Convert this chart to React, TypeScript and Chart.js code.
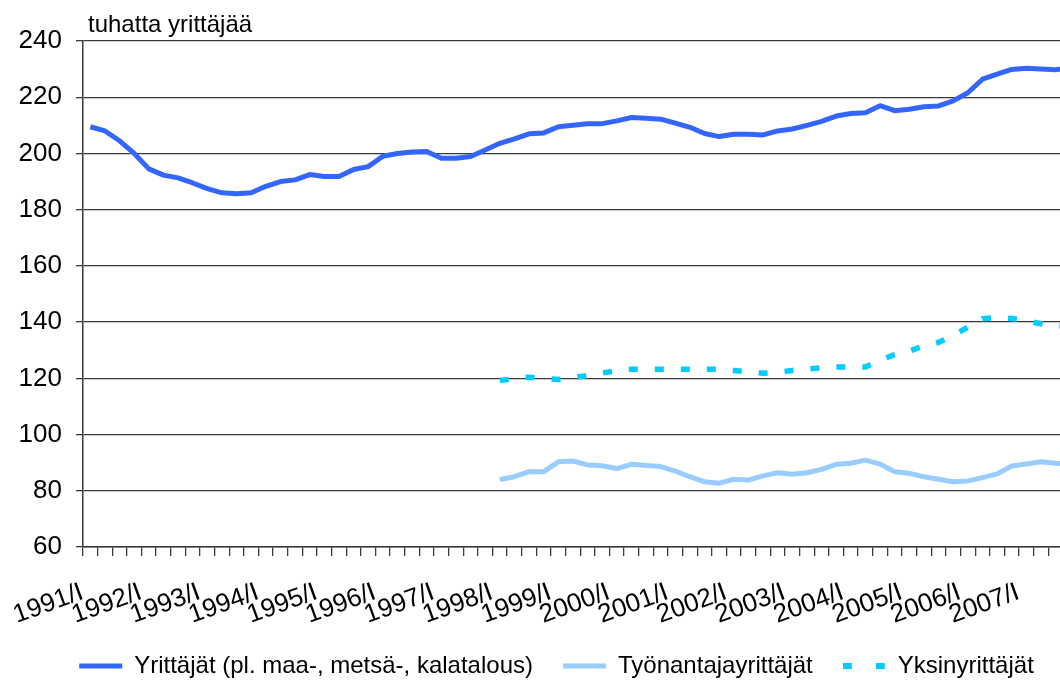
import React, { useEffect, useRef } from 'react';
import { Chart, registerables } from 'chart.js';

Chart.register(...registerables);

const years = [1991, 1992, 1993, 1994, 1995, 1996, 1997, 1998, 1999, 2000, 2001, 2002, 2003, 2004, 2005, 2006, 2007];
const quarterNames = ['I', 'II', 'III', 'IV'];
const categories = years.flatMap((y) => quarterNames.map((q) => `${y}/${q}`));

const axisTitle = 'tuhatta yrittäjää';
const seriesNames = ['Yrittäjät (pl. maa-, metsä-, kalatalous)', 'Työnantajayrittäjät', 'Yksinyrittäjät'];

const yrittajat = [
  209.5, 208, 204.5, 200, 194.5, 192.3, 191.3, 189.5,
  187.5, 186, 185.7, 186, 188.3, 190, 190.6, 192.5,
  191.8, 191.8, 194.3, 195.3, 199, 200, 200.5, 200.7,
  198.3, 198.3, 198.9, 201.2, 203.6, 205.2, 207, 207.3,
  209.5, 210, 210.6, 210.6, 211.6, 212.8, 212.5, 212.2,
  210.8, 209.3, 207.1, 206, 206.8, 206.8, 206.6, 208,
  208.7, 210, 211.4, 213.3, 214.2, 214.5, 217, 215.2,
  215.7, 216.6, 216.9, 218.7, 221.6, 226.4, 228.2, 229.9,
  230.3, 230, 229.8, 230.5,
];

const tyonantajat = [
  null, null, null, null, null, null, null, null,
  null, null, null, null, null, null, null, null,
  null, null, null, null, null, null, null, null,
  null, null, null, null, 84, 85, 86.8, 86.8,
  90.3, 90.6, 89.2, 88.9, 87.9, 89.4, 89, 88.6,
  87, 85, 83.2, 82.7, 84.1, 83.8, 85.3, 86.4,
  85.9, 86.4, 87.6, 89.4, 89.8, 90.9, 89.5, 86.8,
  86.2, 85, 84.1, 83.2, 83.5, 84.7, 86, 88.8,
  89.5, 90.3, 89.8, 89.5,
];

const yksinyrittajat = [
  null, null, null, null, null, null, null, null,
  null, null, null, null, null, null, null, null,
  null, null, null, null, null, null, null, null,
  null, null, null, null, 119.2, 119.9, 120.4, 120.0,
  119.6, 120.2, 121.0, 121.9, 122.7, 123.2, 123.2, 123.2,
  123.2, 123.2, 123.2, 123.2, 122.8, 122.3, 121.8, 122.2,
  122.8, 123.3, 123.7, 124.0, 124.1, 124.0, 126.5, 128.4,
  129.7, 131.5, 132.8, 135.2, 138.2, 141.2, 141.7, 141.3,
  140.5, 139.4, 138.8, 138.5,
];

const FONT = '"Liberation Sans", Arial, Helvetica, sans-serif';
const GRID = '#3a3a3a';
const COLORS = ['#3366ff', '#99ccff', '#00ccff'];

const axisTitlePlugin = {
  id: 'axisTitleTop',
  afterLayout(chart: any) {
    // nudge the centred legend to the right, like the original layout
    if (chart.legend) {
      chart.legend.left += 26;
    }
  },
  afterDraw(chart: any) {
    const ctx = chart.ctx;
    ctx.save();
    ctx.font = `24px ${FONT}`;
    ctx.fillStyle = '#000';
    ctx.textBaseline = 'alphabetic';
    ctx.textAlign = 'left';
    ctx.fillText(axisTitle, chart.chartArea.left + 5, 32);
    ctx.restore();
  },
};

export default function App() {
  const ref = useRef<HTMLCanvasElement | null>(null);

  useEffect(() => {
    if (!ref.current) return;

    // legend marker for the dashed series (two dashes)
    const dashSample = document.createElement('canvas');
    dashSample.width = 43;
    dashSample.height = 6;
    const dctx = dashSample.getContext('2d');
    if (dctx) {
      dctx.fillStyle = COLORS[2];
      dctx.fillRect(0, 0, 9, 6);
      dctx.fillRect(33, 0, 9, 6);
    }

    const chart = new Chart(ref.current, {
      type: 'line',
      data: {
        labels: categories,
        datasets: [
          {
            label: seriesNames[0],
            data: yrittajat,
            borderColor: COLORS[0],
            backgroundColor: COLORS[0],
            borderWidth: 5,
            pointRadius: 0,
            tension: 0,
            borderJoinStyle: 'round',
          },
          {
            label: seriesNames[1],
            data: tyonantajat,
            borderColor: COLORS[1],
            backgroundColor: COLORS[1],
            borderWidth: 5,
            pointRadius: 0,
            tension: 0,
            borderJoinStyle: 'round',
          },
          {
            label: seriesNames[2],
            data: yksinyrittajat,
            borderColor: COLORS[2],
            backgroundColor: COLORS[2],
            borderWidth: 5.5,
            borderDash: [9, 17],
            borderCapStyle: 'butt',
            pointRadius: 0,
            tension: 0,
          },
        ],
      },
      options: {
        animation: false,
        responsive: false,
        devicePixelRatio: 1,
        layout: { padding: { top: 41, left: 0, right: 15, bottom: 4 } },
        plugins: {
          legend: {
            position: 'bottom',
            labels: {
              usePointStyle: true,
              pointStyle: 'line',
              pointStyleWidth: 43,
              padding: 30,
              color: '#000',
              font: { family: FONT, size: 24 },
              generateLabels: (c: any) => {
                const items = (Chart.defaults.plugins.legend.labels as any).generateLabels(c);
                items.forEach((it: any, i: number) => {
                  it.pointStyle = i === 2 ? dashSample : 'line';
                });
                return items;
              },
            },
          },
          tooltip: { enabled: false },
        },
        scales: {
          x: {
            offset: true,
            grid: {
              offset: true,
              drawOnChartArea: false,
              drawTicks: true,
              tickLength: 9,
              color: GRID,
              lineWidth: 1.3,
            },
            border: { color: GRID, width: 1.5 },
            ticks: {
              autoSkip: false,
              minRotation: 20,
              maxRotation: 20,
              padding: 21,
              labelOffset: -8,
              color: '#000',
              font: { family: FONT, size: 26 },
              callback: (_v: any, index: number) => {
                const l = categories[index];
                return l.endsWith('/I') ? l : '';
              },
            },
            afterFit: (s: any) => {
              s.height = 77;
            },
          },
          y: {
            min: 60,
            max: 240,
            ticks: {
              stepSize: 20,
              padding: 14,
              color: '#000',
              font: { family: FONT, size: 26 },
            },
            grid: { color: GRID, lineWidth: 1.3, tickLength: 7, drawTicks: true },
            border: { color: GRID, width: 1.5 },
            afterFit: (s: any) => {
              s.width = 83;
            },
          },
        },
      } as any,
      plugins: [axisTitlePlugin],
    });
    return () => chart.destroy();
  }, []);

  return (
    <div
      style={{
        position: 'absolute',
        left: 0,
        top: 0,
        width: 1060,
        height: 682,
        overflow: 'hidden',
        background: '#fff',
      }}
    >
      <canvas ref={ref} width={1102} height={692} style={{ display: 'block', width: 1102, height: 692 }} />
    </div>
  );
}
